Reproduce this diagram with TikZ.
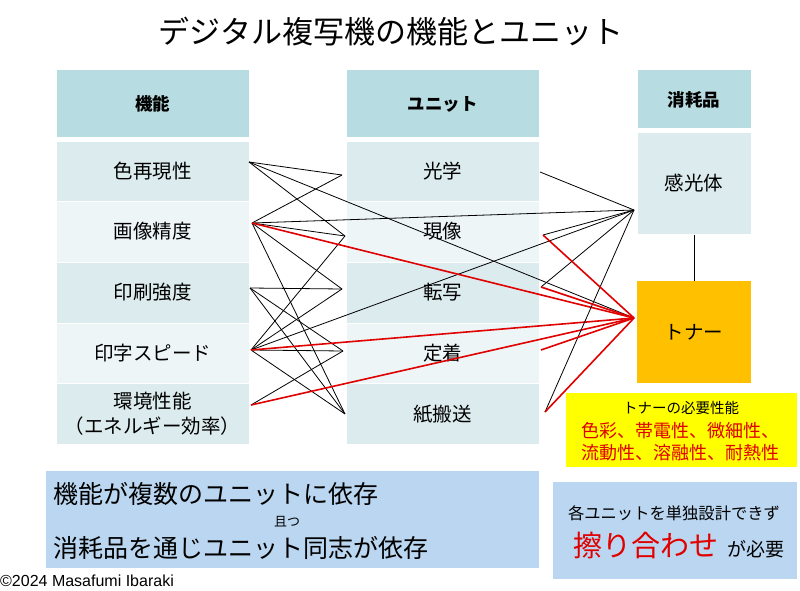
\documentclass[tikz,border=0pt]{standalone}
\usepackage{fontspec}
\setmainfont{Noto Sans CJK JP}
\newfontfamily\latinfont{Liberation Sans}
\usepackage{tikz}
\usetikzlibrary{positioning}

\definecolor{headfill}{HTML}{B7DCE1}
\definecolor{oddfill}{HTML}{DCEBEE}
\definecolor{evenfill}{HTML}{EDF5F7}
\definecolor{tonerfill}{HTML}{FFC000}
\definecolor{notefill}{HTML}{FFFF00}
\definecolor{bluefill}{HTML}{BAD6F0}
\definecolor{linkred}{HTML}{E00000}

\begin{document}
\begin{tikzpicture}[x=1pt,y=-1pt,
		cell/.style={rectangle,draw=white,line width=1pt,inner sep=0pt,align=center,font=\fontsize{19.5}{25}\selectfont},
		headrow/.style={cell,fill=headfill,font=\fontsize{17.5}{20}\selectfont\bfseries},
		oddrow/.style={cell,fill=oddfill},
		evenrow/.style={cell,fill=evenfill},
		link/.style={black,line width=0.8pt},
		redlink/.style={linkred,line width=1.6pt}]
		\useasboundingbox (0,0) rectangle (800,591);

		\node (title) at (391,32) {\fontsize{31}{36}\selectfont デジタル複写機の機能とユニット};

		% Functions
		\begin{scope}[every node/.append style={minimum width=193pt,minimum height=61pt}]
			\node[headrow,minimum height=68pt] (hfunc) at (152.5,104) {機能};
			\node[oddrow]  (f1) at (152.5,171.5) {色再現性};
			\node[evenrow] (f2) at (152.5,231.5) {画像精度};
			\node[oddrow]  (f3) at (152.5,292.5) {印刷強度};
			\node[evenrow] (f4) at (152.5,353.5) {印字スピード};
			\node[oddrow]  (f5) at (152.5,414) {環境性能\\（エネルギー効率）};
		\end{scope}

		% Units
		\begin{scope}[every node/.append style={minimum width=193pt,minimum height=61pt}]
			\node[headrow,minimum height=68pt] (hunit) at (442.5,104) {ユニット};
			\node[oddrow]  (u1) at (442.5,171.5) {光学};
			\node[evenrow] (u2) at (442.5,231.5) {現像};
			\node[oddrow]  (u3) at (442.5,292.5) {転写};
			\node[evenrow] (u4) at (442.5,353.5) {定着};
			\node[oddrow]  (u5) at (442.5,414) {紙搬送};
		\end{scope}

		% Consumables
		\node[headrow,minimum width=114pt,minimum height=59pt] (hcons) at (694,99.5) {消耗品};
		\node[oddrow,minimum width=114pt,minimum height=101pt] (drum) at (694,183.5) {感光体};
		\node[cell,fill=tonerfill,draw=none,minimum width=114pt,minimum height=102pt] (toner) at (694,332) {トナー};
		\draw[link] (drum) -- (toner);

		% Ports
		\coordinate (fp1) at (249,162);
		\coordinate (fp2) at (252,223);
		\coordinate (fp3) at (250,288);
		\coordinate (fp4) at (251,350);
		\coordinate (fp5) at (251,405);

		\coordinate (ul1) at (342,175);
		\coordinate (ul2) at (345,236);
		\coordinate (ul3) at (342,289);
		\coordinate (ul4) at (343,351);
		\coordinate (ul5) at (345,414);

		\coordinate (ur1) at (540,172);
		\coordinate (ur2) at (543,235);
		\coordinate (ur3) at (541,287);
		\coordinate (ur4) at (541,350);
		\coordinate (ur5) at (545,412);

		\coordinate (drum_in)  at (634,210);
		\coordinate (toner_in) at (634,318);

		% Functions to units
		\draw[link] (fp1) -- (ul1);
		\draw[link] (fp1) -- (ul2);
		\draw[link] (fp2) -- (ul1);
		\draw[link] (fp2) -- (ul2);
		\draw[link] (fp2) -- (ul3);
		\draw[link] (fp2) -- (ul5);
		\draw[link] (fp3) -- (ul3);
		\draw[link] (fp3) -- (ul4);
		\draw[link] (fp3) -- (ul5);
		\draw[link] (fp4) -- (ul2);
		\draw[link] (fp4) -- (ul3);
		\draw[link] (fp4) -- (ul4);
		\draw[link] (fp4) -- (ul5);
		\draw[link] (fp5) -- (ul4);

		% Functions to consumables
		\draw[link] (fp1) -- (toner_in);
		\draw[link] (fp2) -- (drum_in);
		\draw[link] (fp4) -- (drum_in);
		\draw[redlink] (fp2) -- (toner_in);
		\draw[redlink] (fp4) -- (toner_in);
		\draw[redlink] (fp5) -- (toner_in);

		% Units to consumables
		\draw[link] (ur1) -- (drum_in);
		\draw[link] (ur2) -- (drum_in);
		\draw[link] (ur3) -- (drum_in);
		\draw[link] (ur5) -- (drum_in);
		\draw[redlink] (ur2) -- (toner_in);
		\draw[redlink] (ur3) -- (toner_in);
		\draw[redlink] (ur4) -- (toner_in);
		\draw[redlink] (ur5) -- (toner_in);

		% Notes
		\node[rectangle,fill=notefill,minimum width=231pt,minimum height=74pt] (need) at (681.5,430) {};
		\node (need_t) at (681,408) {\fontsize{14.5}{17}\selectfont トナーの必要性能};
		\node[text=linkred] (need_a) at (680,431) {\fontsize{18}{21}\selectfont 色彩、帯電性、微細性、};
		\node[text=linkred] (need_b) at (680,453) {\fontsize{18}{21}\selectfont 流動性、溶融性、耐熱性};

		\node[rectangle,fill=bluefill,minimum width=493pt,minimum height=97pt] (depend) at (292.5,519.5) {};
		\node[anchor=west] (depend_a) at (50,494) {\fontsize{25}{28}\selectfont 機能が複数のユニットに依存};
		\node (depend_and) at (287,522) {\fontsize{13}{15}\selectfont 且つ};
		\node[anchor=west] (depend_b) at (50,548) {\fontsize{25}{28}\selectfont 消耗品を通じユニット同志が依存};

		\node[rectangle,fill=bluefill,minimum width=244pt,minimum height=97pt] (fit) at (675,530.5) {};
		\node (fit_a) at (674,513) {\fontsize{16.3}{19}\selectfont 各ユニットを単独設計できず};
		\node (fit_b) at (679,545) {{\fontsize{29}{32}\selectfont\color{linkred}擦り合わせ}\hspace{9pt}{\fontsize{19}{22}\selectfont が必要}};

		\node[anchor=west,inner sep=0pt] (credit) at (0,581) {\latinfont\fontsize{16}{18}\selectfont ©2024 Masafumi Ibaraki};
	\end{tikzpicture}
\end{document}
